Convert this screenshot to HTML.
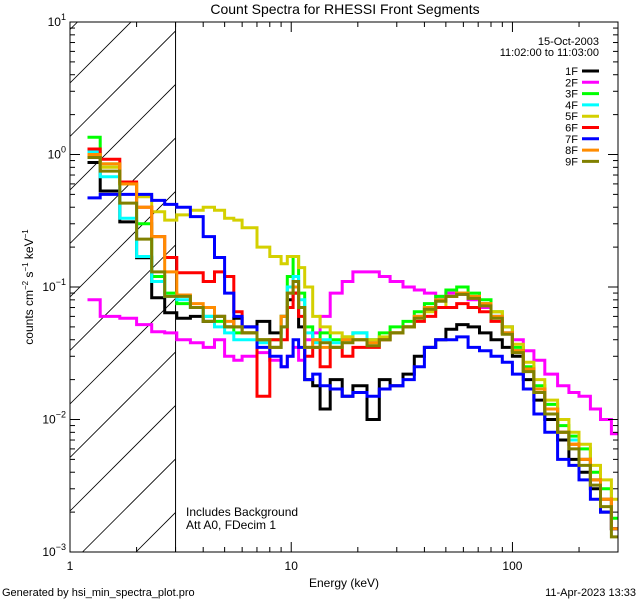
<!DOCTYPE html>
<html><head><meta charset="utf-8"><style>
html,body{margin:0;padding:0;background:#fff;overflow:hidden;width:640px;height:600px}
svg{display:block}
svg text{font-family:"Liberation Sans",sans-serif;fill:#000}
</style></head><body>
<svg id="chart" width="640" height="600" xmlns="http://www.w3.org/2000/svg">
<rect width="640" height="600" fill="#fff"/>
<text x="345" y="14" font-size="14" text-anchor="middle">Count Spectra for RHESSI Front Segments</text>
<g id="plot"></g>
<text x="0" y="0" font-size="12" text-anchor="middle" transform="translate(33,287) rotate(-90)">counts cm<tspan dy="-5" font-size="8">−2</tspan><tspan dy="5"> s</tspan><tspan dy="-5" font-size="8">−1</tspan><tspan dy="5"> keV</tspan><tspan dy="-5" font-size="8">−1</tspan></text>
<text x="344" y="587" font-size="12" text-anchor="middle">Energy (keV)</text>
<text x="186" y="516" font-size="12">Includes Background</text>
<text x="186" y="529" font-size="12">Att A0, FDecim 1</text>
<text x="2" y="596" font-size="11">Generated by hsi_min_spectra_plot.pro</text>
<text x="636" y="596" font-size="11" text-anchor="end">11-Apr-2023 13:33</text>
<text x="599" y="45" font-size="11" text-anchor="end">15-Oct-2003</text>
<text x="599" y="56" font-size="11" text-anchor="end">11:02:00 to 11:03:00</text>
<g id="legend"></g>
</svg>
<script>
const edges=[1.2,1.37,1.68,2.0,2.34,2.68,3.04,3.5,4.0,4.5,5.0,5.5,6.0,7.0,8.0,9.0,9.6,10.2,10.8,11.5,12.5,13.5,15,17,19,22,25,28,32,36,40,45,50,56,63,71,80,90,100,112,125,140,160,180,200,225,250,280,300];
const labels=["1F","2F","3F","4F","5F","6F","7F","8F","9F"];
const colors=["#000000","#ff00ff","#00ff00","#00ffff","#d4d000","#ff0000","#0000ff","#ff8c00","#808000"];
const s1F=[0.87,0.53,0.31,0.166,0.083,0.064,0.058,0.06,0.055,0.06,0.05,0.058,0.05,0.055,0.045,0.06,0.08,0.09,0.05,0.02,0.018,0.012,0.02,0.015,0.018,0.01,0.02,0.018,0.022,0.03,0.035,0.04,0.048,0.052,0.05,0.045,0.04,0.035,0.03,0.02,0.014,0.01,0.007,0.005,0.004,0.003,0.002,0.0015];
const s2F=[0.08,0.06,0.058,0.052,0.046,0.045,0.04,0.038,0.035,0.04,0.03,0.028,0.03,0.032,0.028,0.025,0.03,0.035,0.028,0.04,0.045,0.06,0.09,0.11,0.13,0.13,0.12,0.11,0.1,0.095,0.09,0.085,0.09,0.088,0.08,0.07,0.06,0.05,0.04,0.033,0.028,0.022,0.018,0.016,0.015,0.012,0.01,0.0078];
const s3F=[1.35,0.85,0.6,0.3,0.12,0.09,0.075,0.07,0.06,0.055,0.05,0.045,0.045,0.04,0.04,0.06,0.12,0.17,0.09,0.05,0.04,0.045,0.04,0.042,0.045,0.04,0.045,0.05,0.055,0.065,0.075,0.085,0.095,0.1,0.09,0.08,0.065,0.05,0.035,0.025,0.018,0.013,0.009,0.0075,0.006,0.004,0.003,0.0018];
const s4F=[1.05,0.68,0.33,0.17,0.11,0.085,0.08,0.07,0.06,0.05,0.045,0.04,0.04,0.038,0.035,0.05,0.1,0.12,0.08,0.045,0.038,0.04,0.038,0.04,0.045,0.04,0.04,0.045,0.05,0.06,0.07,0.08,0.085,0.09,0.085,0.075,0.06,0.045,0.033,0.024,0.017,0.012,0.008,0.007,0.005,0.0035,0.0025,0.0015];
const s5F=[1.0,0.8,0.6,0.48,0.37,0.32,0.35,0.38,0.4,0.38,0.33,0.32,0.28,0.2,0.17,0.15,0.17,0.17,0.14,0.1,0.06,0.05,0.045,0.042,0.04,0.04,0.042,0.045,0.05,0.06,0.065,0.07,0.085,0.09,0.085,0.075,0.065,0.05,0.037,0.027,0.02,0.014,0.01,0.008,0.0065,0.0045,0.0035,0.0025];
const s6F=[1.1,0.92,0.62,0.4,0.24,0.167,0.128,0.128,0.11,0.13,0.12,0.065,0.045,0.015,0.04,0.04,0.07,0.09,0.06,0.03,0.035,0.025,0.035,0.03,0.035,0.035,0.04,0.045,0.05,0.055,0.06,0.07,0.07,0.075,0.07,0.065,0.055,0.045,0.033,0.024,0.017,0.012,0.008,0.0065,0.005,0.0035,0.0025,0.0015];
const s7F=[0.47,0.5,0.5,0.5,0.45,0.42,0.4,0.34,0.24,0.167,0.09,0.06,0.05,0.035,0.03,0.025,0.03,0.04,0.035,0.02,0.022,0.018,0.017,0.015,0.016,0.015,0.017,0.018,0.02,0.025,0.035,0.04,0.04,0.042,0.035,0.033,0.03,0.027,0.022,0.017,0.011,0.008,0.005,0.0045,0.0035,0.0025,0.002,0.0015];
const s8F=[1.0,0.85,0.6,0.4,0.24,0.13,0.087,0.075,0.07,0.06,0.055,0.05,0.045,0.04,0.035,0.06,0.09,0.1,0.07,0.035,0.04,0.035,0.035,0.04,0.04,0.038,0.04,0.045,0.05,0.06,0.07,0.08,0.085,0.09,0.085,0.075,0.06,0.045,0.033,0.024,0.017,0.012,0.008,0.0065,0.005,0.0035,0.0025,0.0015];
const s9F=[0.95,0.75,0.43,0.23,0.13,0.085,0.085,0.07,0.055,0.06,0.05,0.05,0.045,0.04,0.035,0.05,0.09,0.11,0.07,0.035,0.035,0.038,0.035,0.038,0.04,0.036,0.04,0.045,0.05,0.058,0.068,0.078,0.085,0.088,0.082,0.072,0.058,0.044,0.032,0.023,0.016,0.011,0.008,0.006,0.0045,0.0032,0.0022,0.0013];
const series=[s1F,s2F,s3F,s4F,s5F,s6F,s7F,s8F,s9F];
const xTicks=[1,10,100];const xTickLabels=["1","10","100"];
const yTicks=[0.001,0.01,0.1,1,10];const yTickExp=["−3","−2","−1","0","1"];

const L=70,R=618,T=22,B=552,xMin=1,xMax=300,yMin=0.001,yMax=10;
const NS="http://www.w3.org/2000/svg";
const xs=e=>L+(Math.log10(e)-Math.log10(xMin))/(Math.log10(xMax)-Math.log10(xMin))*(R-L);
const ys=v=>B-(Math.log10(v)-Math.log10(yMin))/(Math.log10(yMax)-Math.log10(yMin))*(B-T);
const plot=document.getElementById('plot');
function mk(tag,attrs,parent){const el=document.createElementNS(NS,tag);for(const k in attrs)el.setAttribute(k,attrs[k]);(parent||plot).appendChild(el);return el;}
// hatch
const cp=mk('clipPath',{id:'hc'});mk('rect',{x:L,y:T,width:xs(3)-L,height:B-T},cp);
const hg=mk('g',{'clip-path':'url(#hc)'});


for(let k=-2;k<14;k++){const y0=83+k*53.5;mk('line',{x1:L,y1:y0,x2:L+200,y2:y0-200,stroke:'#000','stroke-width':0.8},hg);}
const bl=mk('line',{x1:xs(3),y1:T,x2:xs(3),y2:B,stroke:'#000','stroke-width':1});


// series
const cp2=mk('clipPath',{id:'pc'});mk('rect',{x:L,y:T,width:R-L,height:B-T},cp2);
series.forEach((vals,i)=>{
 let d='';
 vals.forEach((v,j)=>{const x0=xs(edges[j]),x1=xs(edges[j+1]),y=ys(v);d+=(j===0?'M':'L')+x0.toFixed(1)+','+y.toFixed(1)+'L'+x1.toFixed(1)+','+y.toFixed(1);});
 const p=mk('path',{d:d,fill:'none',stroke:colors[i],'stroke-width':3,'clip-path':'url(#pc)','stroke-linejoin':'miter'});
 
 
});
// frame
const fr=mk('rect',{x:L,y:T,width:R-L,height:B-T,fill:'none',stroke:'#000','stroke-width':1});


// x ticks
for(let dec=1;dec<=100;dec*=10){for(let m=1;m<10;m++){const e=dec*m;if(e>xMax)break;const x=xs(e);const len=m===1?10:5;
 mk('line',{x1:x,y1:B,x2:x,y2:B-len,stroke:'#000'});mk('line',{x1:x,y1:T,x2:x,y2:T+len,stroke:'#000'});}}
xTicks.forEach((e,i)=>{const t=mk('text',{x:xs(e),y:B+18,'font-size':12,'text-anchor':'middle'});t.textContent=xTickLabels[i];
 
 });
// y ticks
for(let dec=0.001;dec<10;dec*=10){for(let m=1;m<10;m++){const v=dec*m;const y=ys(v);const len=m===1?10:5;
 mk('line',{x1:L,y1:y,x2:L+len,y2:y,stroke:'#000'});mk('line',{x1:R,y1:y,x2:R-len,y2:y,stroke:'#000'});}}
mk('line',{x1:L,y1:T,x2:L+10,y2:T,stroke:'#000'});
yTicks.forEach((v,i)=>{const t=mk('text',{x:L-4,y:ys(v)+4,'font-size':12,'text-anchor':'end'});
 t.innerHTML='10<tspan dy="-6" font-size="9">'+yTickExp[i]+'</tspan>';
 
 });
// legend
const lg=document.getElementById('legend');
labels.forEach((lab,i)=>{const y=71+i*11.3;
 const t=mk('text',{x:578,y:y+4,'font-size':11,'text-anchor':'end'},lg);t.textContent=lab;
 
 
 const l=mk('line',{x1:582,y1:y,x2:599,y2:y,stroke:colors[i],'stroke-width':3},lg);
 
 });
</script>
</body></html>
